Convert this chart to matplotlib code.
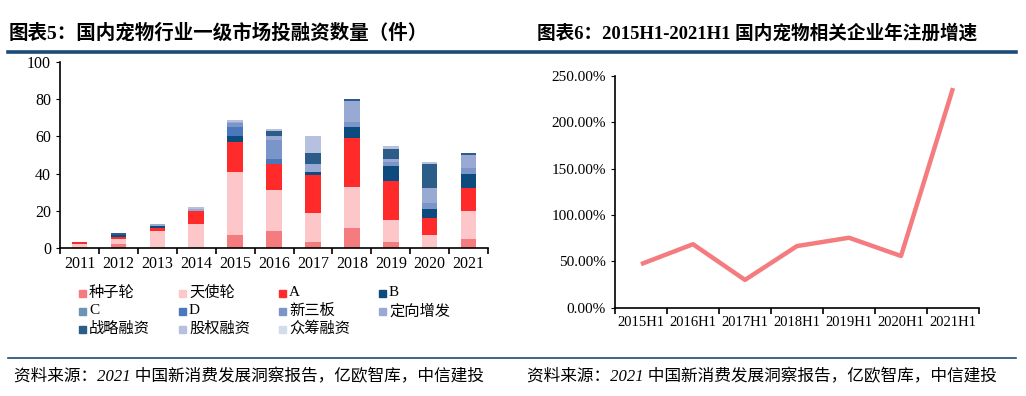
import numpy as np
import matplotlib
matplotlib.use("Agg")
import matplotlib.pyplot as plt
from matplotlib.lines import Line2D
from matplotlib.patches import Rectangle

# ---- data: left chart (stacked bars, counts) ----
years = ["2011", "2012", "2013", "2014", "2015", "2016", "2017", "2018", "2019", "2020", "2021"]
rounds = ["种子轮", "天使轮", "A", "B", "C", "D", "新三板", "定向增发", "战略融资", "股权融资", "众筹融资"]
seed      = [0, 2, 0, 0, 7, 9, 3, 11, 3, 0, 5]
angel     = [2, 3, 9, 13, 34, 22, 16, 22, 12, 7, 15]
round_a   = [1, 1, 2, 7, 16, 14, 20, 26, 21, 9, 12]
round_b   = [0, 1, 1, 0, 3, 0, 2, 6, 8, 5, 8]
round_c   = [0, 0, 0, 0, 0, 0, 0, 0, 0, 0, 0]
round_d   = [0, 0, 0, 0, 5, 3, 0, 0, 0, 0, 0]
neeq      = [0, 0, 0, 0, 2, 10, 0, 3, 2, 3, 3]
private   = [0, 0, 1, 1, 1, 2, 4, 11, 2, 8, 7]
strategic = [0, 1, 0, 0, 0, 3, 6, 1, 5, 13, 1]
equity    = [0, 0, 0, 1, 1, 1, 9, 0, 2, 1, 0]
crowd     = [0, 0, 0, 0, 0, 0, 0, 0, 0, 0, 0]
series = [seed, angel, round_a, round_b, round_c, round_d, neeq, private, strategic, equity, crowd]
colors = ["#F47C7E", "#FDC7C9", "#FF2B2B", "#0D4A7D", "#6D94B4", "#4A78BD",
          "#7B95C9", "#98A9D3", "#2C5C88", "#B6C1DF", "#D3DCEA"]

# ---- data: right chart (growth rate) ----
halves = ["2015H1", "2016H1", "2017H1", "2018H1", "2019H1", "2020H1", "2021H1"]
growth = [0.47, 0.685, 0.30, 0.665, 0.755, 0.558, 2.37]

FAM = ["Liberation Serif", "Noto Sans CJK SC"]
plt.rcParams["font.family"] = FAM
NAVY = "#1B4B7A"

fig = plt.figure(figsize=(10.26, 3.96), dpi=100, facecolor="white")

# titles and rules
fig.text(0.008, 0.915, "图表5：国内宠物行业一级市场投融资数量（件）", fontsize=14,
         fontweight="bold", va="center", ha="left")
fig.text(0.523, 0.915, "图表6：2015H1-2021H1 国内宠物相关企业年注册增速", fontsize=13.4,
         fontweight="bold", va="center", ha="left")
fig.add_artist(Line2D([0.008, 0.99], [0.869, 0.869], color=NAVY, lw=2.6))
fig.add_artist(Line2D([0.008, 0.99], [0.097, 0.097], color=NAVY, lw=1.2))
fig.text(0.014, 0.048, "资料来源：2021 中国新消费发展洞察报告，亿欧智库，中信建投",
         fontsize=12, va="center", ha="left", style="italic")
fig.text(0.514, 0.048, "资料来源：2021 中国新消费发展洞察报告，亿欧智库，中信建投",
         fontsize=12, va="center", ha="left", style="italic")

# ---- left chart ----
ax = fig.add_axes([0.0585, 0.3737, 0.4172, 0.4697])
x = np.arange(len(years))
bottom = np.zeros(len(years))
for name, vals, c in zip(rounds, series, colors):
    ax.bar(x, vals, bottom=bottom, width=0.4, color=c, label=name, linewidth=0)
    bottom += np.array(vals)
ax.set_xlim(-0.5, len(years) - 0.5)
ax.set_ylim(0, 100)
ax.set_yticks(range(0, 101, 20))
ax.set_xticks(x)
ax.set_xticklabels(years, fontsize=11.5)
ax.set_xticks(np.arange(-0.5, len(years), 1), minor=True)
ax.tick_params(axis="x", which="major", length=0, pad=6)
ax.tick_params(axis="x", which="minor", length=4, width=1.2, direction="out")
ax.tick_params(axis="y", labelsize=11.5, length=3, direction="out")
for s in ["top", "right"]:
    ax.spines[s].set_visible(False)
for s in ["left", "bottom"]:
    ax.spines[s].set_linewidth(1.2)

# legend, filled row by row
W, H = 1026.0, 396.0
for i, (name, c) in enumerate(zip(rounds, colors)):
    col, row = i % 4, i // 4
    px, py = 79 + col * 100, 293 + row * 18
    fig.add_artist(Rectangle((px / W, (H - py - 3.5) / H), 7 / W, 7 / H,
                             color=c, transform=fig.transFigure))
    fig.text((px + 10) / W, (H - py) / H, name, fontsize=11, va="center", ha="left")

# ---- right chart ----
ax2 = fig.add_axes([0.5994, 0.223, 0.3548, 0.585])
xr = np.arange(len(halves))
ax2.plot(xr, growth, color="#F47C7E", lw=3.2, solid_capstyle="butt")
ax2.set_xlim(-0.5, len(halves) - 0.5)
ax2.set_ylim(0, 2.5)
ax2.set_yticks(np.arange(0, 2.51, 0.5))
ax2.set_yticklabels([f"{v * 100:.2f}%" for v in np.arange(0, 2.51, 0.5)], fontsize=11)
ax2.set_xticks(xr)
ax2.set_xticklabels(halves, fontsize=10.5)
ax2.set_xticks(np.arange(-0.5, len(halves), 1), minor=True)
ax2.tick_params(axis="x", which="major", length=0, pad=6)
ax2.tick_params(axis="x", which="minor", length=4, width=1.2, direction="out")
ax2.tick_params(axis="y", length=3, direction="out")
for s in ["top", "right"]:
    ax2.spines[s].set_visible(False)
for s in ["left", "bottom"]:
    ax2.spines[s].set_linewidth(1.2)

fig.savefig("out.png", dpi=100, facecolor="white")
